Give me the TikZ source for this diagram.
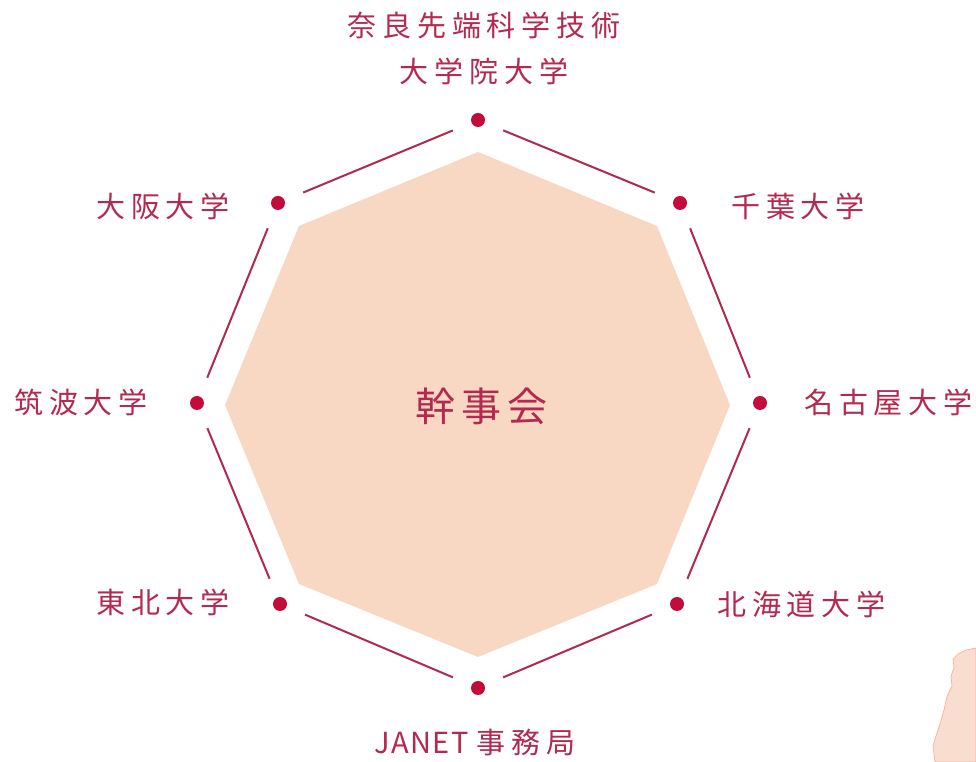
\documentclass[tikz,border=0pt]{standalone}
\usepackage{fontspec}
\newfontfamily\jp[LetterSpace=20]{Noto Sans CJK JP}
\newfontfamily\jpwide[LetterSpace=15]{Noto Sans CJK JP}
\newfontfamily\jplatin[LetterSpace=5]{Noto Sans CJK JP}
\usetikzlibrary{calc}
\definecolor{peach}{HTML}{F8D8C3}
\definecolor{peachpale}{HTML}{F9DDCF}
\definecolor{crimson}{HTML}{C20D3B}
\definecolor{linkred}{HTML}{B02A50}
\definecolor{labelred}{HTML}{B3294F}
\tikzset{
  member/.style={circle, fill=crimson, inner sep=0pt, minimum size=10.5pt},
  link/.style={draw=linkred, line width=1.5pt, shorten <=15pt, shorten >=15pt},
  label/.style={text=labelred, inner sep=0pt, font=\jp\fontsize{21.75}{35}\selectfont},
  core/.style={text=labelred, inner sep=0pt, font=\jpwide\fontsize{30}{36}\selectfont},
}
\begin{document}
\begin{tikzpicture}[x=0.75pt,y=-0.75pt]
\useasboundingbox (0,0) rectangle (976,762);
\fill[white] (0,0) rectangle (976,762);

% central committee octagon
\fill[peach] (478,152) -- (657,226) -- (730,405) -- (657,584) -- (478,657)
  -- (299,584) -- (225,405) -- (299,226) -- cycle;
\node[core, anchor=base] (kanji) at (481,422) {幹事会};

% member dots around the octagon
\node[member] (nara)    at (478,120) {};
\node[member] (chiba)   at (680,203) {};
\node[member] (nagoya)  at (760,403) {};
\node[member] (hokkai)  at (677,604) {};
\node[member] (janet)   at (478,688) {};
\node[member] (tohoku)  at (280,604) {};
\node[member] (tsukuba) at (197,403) {};
\node[member] (osaka)   at (278,203) {};

% ring connecting neighbouring members
\draw[link] (nara) -- (chiba);
\draw[link] (chiba) -- (nagoya);
\draw[link] (nagoya) -- (hokkai);
\draw[link] (hokkai) -- (janet);
\draw[link] (janet) -- (tohoku);
\draw[link] (tohoku) -- (tsukuba);
\draw[link] (tsukuba) -- (osaka);
\draw[link] (osaka) -- (nara);

% member names
\node[label, align=center, anchor=base] (naraname) at (484,83) {奈良先端科学技術\\大学院大学};
\node[label, anchor=base west] (chibaname) at (731,218) {千葉大学};
\node[label, anchor=base west] (nagoyaname) at (804,414) {名古屋大学};
\node[label, anchor=base west] (hokkainame) at (717,616) {北海道大学};
\node[label, anchor=base west] (janetname) at (374,754) {{\jplatin JANET }事務局};
\node[label, anchor=base east] (tohokuname) at (230,614) {東北大学};
\node[label, anchor=base west] (tsukubaname) at (14,414) {筑波大学};
\node[label, anchor=base east] (osakaname) at (230,218) {大阪大学};

% torn paper scrap at the lower right edge
\fill[peachpale, draw=peach!80!red, line width=0.5pt]
  (976,648) -- (966,650) -- (958,654) -- (953,659) -- (954,668) -- (951,676)
  -- (952,686) -- (947,696) -- (944,710) -- (940,724) -- (936,736) -- (933,746)
  -- (935,762) -- (976,762) -- cycle;
\end{tikzpicture}
\end{document}
